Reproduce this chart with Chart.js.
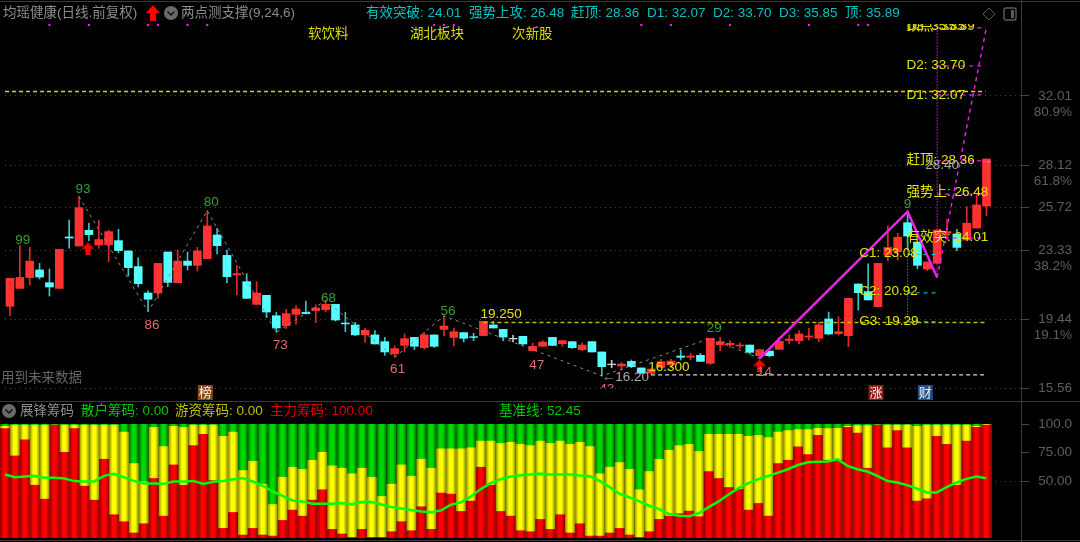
<!DOCTYPE html>
<html>
<head>
<meta charset="utf-8">
<title>均瑶健康</title>
<script src="https://cdn.jsdelivr.net/npm/chart.js@4/dist/chart.umd.min.js"></script>
<style>
  html, body { margin: 0; background: #000; }
  #page { position: relative; width: 1080px; height: 542px; overflow: hidden; background: #000;
          font: 13.5px "Liberation Sans", "Noto Sans CJK SC", sans-serif; }
  canvas { position: absolute; left: 0; }
  #priceChart { top: 0; }
  #chipChart { top: 402px; }
  .t { position: absolute; white-space: nowrap; line-height: 16px; }
  .rule { position: absolute; background: #3a3a3a; }
  .cy { color: #00c4c4; top: 5px; }
  .ye { color: #dcdc00; top: 26px; }
  .sub { top: 403px; }
  svg { position: absolute; }
</style>
</head>
<body>
<div id="page">
  <canvas id="priceChart" width="1080" height="402"></canvas>
  <canvas id="chipChart" width="1080" height="140"></canvas>

  <div class="rule" style="left:0;top:1px;width:1080px;height:1px"></div>
  <div class="rule" style="left:0;top:401px;width:1080px;height:1px"></div>
  <div class="rule" style="left:0;top:540px;width:1080px;height:1px"></div>
  <div class="rule" style="left:1021px;top:0;width:1px;height:542px"></div>

  <div class="t" style="left:3px;top:5px;color:#8c8c8c">均瑶健康(日线.前复权)</div>
  <svg style="left:146px;top:5px" width="14" height="16"><polygon points="7,0 14,8 10,8 10,16 4,16 4,8 0,8" fill="#ff0000"/></svg>
  <svg style="left:164px;top:6px" width="14" height="14"><circle cx="7" cy="7" r="7" fill="#6a6a6a"/><polyline points="3.5,5.5 7,9 10.5,5.5" fill="none" stroke="#111" stroke-width="1.5"/></svg>
  <div class="t" style="left:181px;top:5px;color:#8c8c8c">两点测支撑(9,24,6)</div>
  <div class="t cy" style="left:366px">有效突破: 24.01</div>
  <div class="t cy" style="left:469px">强势上攻: 26.48</div>
  <div class="t cy" style="left:571px">赶顶: 28.36</div>
  <div class="t cy" style="left:647px">D1: 32.07</div>
  <div class="t cy" style="left:713px">D2: 33.70</div>
  <div class="t cy" style="left:779px">D3: 35.85</div>
  <div class="t cy" style="left:845px">顶: 35.89</div>
  <div class="t ye" style="left:308px">软饮料</div>
  <div class="t ye" style="left:410px">湖北板块</div>
  <div class="t ye" style="left:512px">次新股</div>
  <svg style="left:982px;top:7px" width="14" height="14"><polygon points="7,1 13,7 7,13 1,7" fill="none" stroke="#5c5c5c"/></svg>
  <svg style="left:1003px;top:7px" width="14" height="14"><rect x="1" y="1" width="12" height="12" rx="2" fill="none" stroke="#5c5c5c" stroke-width="1.4"/><rect x="8" y="3" width="3" height="8" fill="#5c5c5c"/></svg>
  <div class="t" style="left:1px;top:370px;color:#666">用到未来数据</div>

  <svg style="left:2px;top:404px" width="14" height="14"><circle cx="7" cy="7" r="7" fill="#6a6a6a"/><polyline points="3.5,5.5 7,9 10.5,5.5" fill="none" stroke="#111" stroke-width="1.5"/></svg>
  <div class="t sub" style="left:20px;color:#8c8c8c">展锋筹码</div>
  <div class="t sub" style="left:81px;color:#00c800">散户筹码: 0.00</div>
  <div class="t sub" style="left:175px;color:#c0c000">游资筹码: 0.00</div>
  <div class="t sub" style="left:270px;color:#d80000">主力筹码: 100.00</div>
  <div class="t sub" style="left:499px;color:#00c800">基准线: 52.45</div>
</div>

<script>
// candles, one per trading day
const opens = [20.16,21.17,21.78,22.21,21.49,21.17,24.07,23.56,24.44,23.62,23.62,23.86,23.28,22.40,20.91,20.91,23.22,21.49,22.71,22.47,
  22.85,24.18,23.03,21.93,21.55,20.27,20.78,19.63,19.07,19.71,19.82,19.92,19.97,20.27,19.22,19.11,18.55,18.55,18.17,17.48,
  17.96,18.41,17.83,18.55,18.86,18.41,18.68,18.45,18.51,19.11,18.86,18.36,18.47,17.66,17.91,18.41,18.06,18.17,17.72,18.17,
  17.59,16.91,16.80,17.06,16.69,16.39,16.72,16.87,17.36,17.29,17.40,16.95,18.00,18.00,17.93,17.98,17.38,17.64,17.74,18.24,
  18.23,18.43,18.36,19.45,18.62,18.51,21.42,20.99,20.14,23.05,23.24,24.87,23.78,22.26,22.58,24.27,24.24,23.90,24.57,25.81];
const closes = [21.74,21.79,22.71,21.81,21.25,23.37,24.01,25.72,24.20,23.92,24.37,23.30,22.34,21.44,20.56,22.58,21.51,22.71,22.47,23.28,
  24.69,23.58,21.83,22.00,20.61,20.91,19.84,18.94,19.75,20.01,19.75,20.07,20.27,19.39,19.17,18.55,18.81,18.04,17.59,17.78,
  18.34,17.91,18.55,17.91,19.05,18.73,18.36,18.41,19.32,18.94,18.43,18.32,18.04,17.91,18.15,17.96,18.23,17.83,17.98,17.59,
  16.76,16.87,16.91,16.76,16.39,16.63,17.04,17.08,17.29,17.36,17.06,18.36,18.17,18.08,17.98,17.57,17.72,17.38,18.19,18.32,
  18.60,18.49,19.11,18.60,18.73,20.61,20.93,20.52,22.58,23.48,24.05,24.12,22.47,22.66,24.46,24.37,23.48,24.84,25.87,28.46];
const highs = [21.74,23.58,23.48,22.58,22.26,23.37,25.02,26.34,24.84,25.02,24.46,24.50,23.28,22.90,21.04,22.58,23.22,23.33,23.22,23.48,
  25.55,24.56,23.33,22.45,22.00,21.55,20.78,19.82,19.99,20.20,20.46,20.24,20.48,20.27,19.82,19.26,18.92,18.79,18.41,17.94,
  18.60,18.41,18.68,18.55,19.62,18.92,18.68,18.64,19.32,19.32,18.86,18.53,18.47,18.09,18.23,18.41,18.23,18.17,18.09,18.17,
  17.59,17.12,16.99,17.14,16.69,16.63,17.17,17.17,17.70,17.51,17.51,18.36,18.41,18.23,18.11,17.98,17.72,17.64,18.41,18.55,
  18.79,18.92,19.26,19.84,19.58,20.61,21.42,22.55,22.58,24.69,24.27,25.49,23.78,22.66,24.46,25.06,24.50,25.78,26.43,28.46];
const lows = [19.63,21.17,21.36,21.70,20.74,21.17,23.43,23.56,23.86,23.43,22.68,23.18,21.87,21.25,19.86,20.61,21.27,21.49,22.21,22.15,
  22.85,23.11,21.49,20.80,20.59,20.27,19.54,18.70,18.90,19.15,19.73,19.24,19.84,19.33,18.73,18.51,18.13,18.04,17.40,17.29,
  17.59,17.72,17.74,17.85,18.49,17.93,18.15,18.23,18.51,18.94,18.23,18.15,17.98,17.66,17.91,17.94,17.91,17.79,17.66,17.59,
  16.24,16.70,16.57,16.70,16.39,16.29,16.72,16.72,17.14,17.14,17.06,16.89,17.66,17.85,17.79,17.47,17.23,17.32,17.74,18.04,
  18.04,18.26,18.17,18.55,18.55,17.89,19.95,20.52,20.14,22.73,22.77,23.33,22.28,22.17,22.58,23.90,23.30,23.90,24.57,25.27];
const flatBars = [51, 61];

// chip panel: top of the red block, top of the yellow block, and the baseline
const mainForce = [96.2,72.3,86.3,46.6,34.4,99.4,75.5,96.2,45.8,33.5,69.4,20.7,14.6,4.7,12.8,52.5,19.5,64.4,46.6,81.3,
  91.3,50.7,8.7,22.7,2.9,8.7,2.9,2.0,15.7,24.8,19.5,33.5,42.6,7.9,3.8,0.9,7.9,0.9,0.9,5.8,
  14.6,6.7,27.7,7.9,39.7,38.8,23.6,32.7,62.4,46.6,23.6,19.5,6.7,5.8,16.6,7.9,20.7,4.7,12.8,2.0,
  2.0,4.7,8.7,2.9,0.9,5.8,16.6,19.5,21.6,23.9,19.0,58.6,52.5,44.6,42.9,24.8,30.6,19.5,65.6,68.5,
  80.2,73.5,90.4,68.5,68.5,97.4,92.4,61.5,99.4,79.3,94.5,79.3,32.7,34.7,89.5,82.5,46.6,85.4,97.4,99.4];
const hotMoney = [98.3,99.4,99.4,99.4,99.4,99.4,99.4,99.4,99.4,99.4,99.4,99.4,93.3,65.6,49.6,97.4,80.5,98.3,97.4,99.4,
  99.4,99.4,89.5,93.3,59.5,67.6,47.5,29.7,53.6,62.4,60.6,68.5,75.5,63.6,61.5,56.6,61.5,53.6,36.7,47.5,
  64.4,54.5,69.4,61.5,78.4,78.4,78.4,79.3,85.4,85.4,83.4,84.3,82.5,81.3,85.4,83.4,85.4,82.5,84.3,80.5,
  56.6,62.4,66.5,60.6,42.6,58.6,69.4,77.3,81.3,82.5,76.4,91.3,91.3,91.3,91.3,89.5,90.4,88.3,93.3,94.5,
  95.3,95.3,96.5,96.2,96.5,98.3,98.8,98.8,99.4,99.4,99.4,99.4,98.3,99.4,99.4,99.4,99.4,99.4,98.3,100];
const baseLine = [55.7,53.4,53.9,54.5,52.8,52.8,52.2,49.9,49.6,49.6,54.5,56.3,53.4,50.1,47.8,47.8,47.5,49.6,49.6,50.1,
  47.5,49.3,50.1,51.6,52.5,49.6,45.8,40.8,37.0,32.9,32.1,30.0,30.0,30.0,30.6,29.7,31.8,31.5,29.4,27.1,
  25.9,24.5,23.3,22.7,24.2,29.2,31.2,36.4,42.9,48.1,51.6,53.9,55.1,55.7,56.6,55.7,55.7,55.7,54.8,54.2,
  50.1,44.6,38.8,35.6,32.1,28.3,25.4,21.0,19.5,19.0,21.9,27.1,32.1,38.2,43.7,48.1,51.6,54.5,57.4,60.3,
  64.1,66.5,66.8,67.1,69.1,63.3,60.3,58.3,54.5,50.1,48.7,46.4,43.4,39.9,39.9,44.6,48.7,51.9,53.9,52.45];

// axes
const priceTicks = [32.01, 28.12, 25.72, 23.33, 19.44, 15.56];
const priceTickLabels = [['', '32.01', '80.9%'], ['', '28.12', '61.8%'], '25.72', ['', '23.33', '38.2%'], ['', '19.44', '19.1%'], '15.56'];
const chipTicks = [100, 75, 50];
const chipTickLabels = ['100.0', '75.00', '50.00'];

// overlay lines
const zigzagX = [7, 14, 20, 27, 32, 39, 44, 60, 71, 76];
const zigzagY = [26.34, 19.86, 25.55, 18.70, 20.48, 17.29, 19.62, 16.24, 18.36, 17.23];
const swingX = [76, 91, 94];
const swingY = [17.23, 25.49, 21.79];
const targetX = [94, 99];
const targetY = [21.79, 35.89];
const upperLevels = [35.85, 33.70, 32.07, 28.36, 26.48, 24.01];
const lowerLevels = [23.08, 20.92, 19.29];
const dotDays = [4, 8, 14, 15, 18, 20, 43, 44, 45, 64, 67, 73, 81, 86, 87];
const arrowDays = [7.9, 76];
const arrowPrices = [23.39, 16.80];

// text on the chart
const highText = ['99', '93', '80', '68', '56', '29', '9'];
const highX = [1.3, 7.4, 20.4, 32.3, 44.4, 71.4, 91];
const highY = [23.90, 26.77, 26.04, 20.63, 19.90, 18.94, 25.93];
const lowText = ['86', '73', '61', '47', '43', '14'];
const lowX = [14.4, 27.4, 39.3, 53.4, 60.5, 76.5];
const lowY = [19.11, 17.98, 16.63, 16.85, 15.50, 16.46];
const levelText = ['D3: 35.85', '顶点: 35.89', 'D2: 33.70', 'D1: 32.07', '赶顶: 28.36', '强势上: 26.48', '有效突: 24.01', 'C1: 23.08', 'C2: 20.92', 'G3: 19.29', '19.250', '16.300'];
const levelX = [90.9, 90.9, 90.9, 90.9, 90.9, 90.9, 90.9, 86.1, 86.1, 86.1, 47.7, 64.7];
const levelY = [35.95, 35.95, 33.76, 32.07, 28.40, 26.60, 24.07, 23.16, 21.02, 19.33, 19.73, 16.74];
const priceText = ['28.40', '→', '←16.20'];
const priceX = [92.8, 98.3, 60];
const priceY = [28.12, 28.40, 16.18];
const badgeText = ['榜', '涨', '财'];
const badgeX = [19.8, 87.8, 92.8];
const badgeColor = ['#8a4a12', '#8a1c1c', '#1f4f86'];

const RED = '#ff3232', CYAN = '#55ffff', GREY = '#c8c8c8';
const FONT = '"Liberation Sans", "Noto Sans CJK SC", sans-serif';
const days = opens.map((o, i) => i);

function bodyColor(i) {
  if (flatBars.includes(i)) return GREY;
  return closes[i] >= opens[i] ? RED : CYAN;
}
function wickColor(i) {
  if (flatBars.includes(i)) return GREY;
  return closes[i] >= opens[i] ? '#e42828' : '#38c4c4';
}

function pairs(xs, ys) {
  return xs.map((x, i) => ({x: x, y: ys[i]}));
}

function seg(xs, ys, color, width, dash, order) {
  return {
    type: 'line',
    data: pairs(xs, ys),
    borderColor: color,
    borderWidth: width,
    borderDash: dash,
    pointRadius: 0,
    tension: 0,
    order: order,
  };
}

function arrowIcon() {
  const c = document.createElement('canvas');
  c.width = 13;
  c.height = 13;
  const g = c.getContext('2d');
  g.fillStyle = '#ff0000';
  g.beginPath();
  [[6.5, 0], [13, 6.5], [9, 6.5], [9, 13], [4, 13], [4, 6.5], [0, 6.5]].forEach(p => g.lineTo(p[0], p[1]));
  g.fill();
  return c;
}

const chartNotes = {
  id: 'chartNotes',
  afterDatasetsDraw(chart) {
    const {ctx, chartArea, scales: {x, y}} = chart;
    ctx.save();
    ctx.beginPath();
    ctx.rect(chartArea.left, chartArea.top + 1, chartArea.right - chartArea.left, chartArea.bottom - chartArea.top - 1);
    ctx.clip();
    ctx.textBaseline = 'middle';
    const write = (texts, xs, ys, color, align) => {
      ctx.fillStyle = color;
      ctx.textAlign = align;
      texts.forEach((t, i) => ctx.fillText(t, x.getPixelForValue(xs[i]), y.getPixelForValue(ys[i])));
    };
    ctx.font = '13.5px ' + FONT;
    write(highText, highX, highY, '#35a035', 'center');
    write(lowText, lowX, lowY, '#e26c6c', 'center');
    write(levelText, levelX, levelY, '#e4e400', 'left');
    write(priceText, priceX, priceY, '#a8a8a8', 'left');
    ctx.restore();

    // flags in the strip under the candles
    ctx.save();
    ctx.font = '13px ' + FONT;
    ctx.textAlign = 'center';
    ctx.textBaseline = 'middle';
    badgeText.forEach((t, i) => {
      const px = x.getPixelForValue(badgeX[i]);
      ctx.fillStyle = badgeColor[i];
      ctx.fillRect(px - 7.5, 385, 15, 15);
      ctx.fillStyle = '#f4f4f4';
      ctx.fillText(t, px, 393);
    });
    ctx.restore();
  }
};

function rightAxis(ticks, labels, padding) {
  return {
    position: 'right',
    afterBuildTicks(scale) {
      scale.ticks = ticks.map(v => ({value: v}));
    },
    afterFit(scale) {
      scale.width = 50;
      scale.paddingTop = 0;
      scale.paddingBottom = 0;
    },
    border: {display: false, dash: [1, 4]},
    ticks: {
      autoSkip: false,
      color: '#5e5e5e',
      font: {size: 13.5, family: FONT},
      padding: padding,
      crossAlign: 'far',
      callback: (value, index) => labels[index],
    },
  };
}

const xAxis = {type: 'linear', display: false, offset: false, min: -0.505, max: 102.6};

const priceY2 = rightAxis(priceTicks, priceTickLabels, 5);
priceY2.min = 15.56;
priceY2.max = 36.12;
priceY2.grid = {color: '#474747', tickColor: '#474747', tickLength: 7, tickBorderDash: []};

new Chart(document.getElementById('priceChart'), {
  type: 'bar',
  plugins: [chartNotes],
  data: {
    datasets: [
      {
        data: days.map(i => ({x: i, y: [lows[i], highs[i]]})),
        backgroundColor: days.map(wickColor),
        barThickness: 1,
        grouped: false,
        order: 20,
      },
      {
        data: days.map(i => ({x: i, y: [opens[i], closes[i]]})),
        backgroundColor: days.map(bodyColor),
        barThickness: 8,
        grouped: false,
        order: 19,
      },
      seg(zigzagX, zigzagY, '#8a8a8a', 1, [3, 4], 10),
      seg([-0.5, 98.9], [32.26, 32.26], '#d8d800', 1.6, [4, 3], 9),
      seg([48, 99], [19.25, 19.25], '#b8b800', 1.6, [4, 3], 9),
      seg([65, 99], [16.30, 16.30], '#d8d8d8', 1.4, [4, 3], 9),
      seg([91, 91], [25.49, 19.29], '#00d8d8', 1, [1, 2], 8),
      seg([94, 94], [21.79, 36.12], '#ee22ee', 1.4, [1, 2], 8),
      seg(targetX, targetY, '#ee22ee', 1.4, [4, 4], 7),
      ...upperLevels.map(v => seg([94, 98.9], [v, v], '#ee22ee', 1.2, [4, 4], 7)),
      ...lowerLevels.map(v => seg([91, 94], [v, v], '#00d8d8', 1, [4, 4], 7)),
      seg(swingX, swingY, '#ee22ee', 2.5, [], 6),
      {
        type: 'line',
        data: dotDays.map(d => ({x: d, y: 36.01})),
        showLine: false,
        pointStyle: 'rect',
        pointRadius: 1.5,
        pointBorderWidth: 0,
        pointBackgroundColor: '#ee22ee',
        order: 5,
      },
      {
        type: 'line',
        data: pairs(arrowDays, arrowPrices),
        showLine: false,
        pointStyle: arrowIcon(),
        order: 4,
      },
    ],
  },
  options: {
    responsive: false,
    animation: false,
    devicePixelRatio: 1,
    layout: {padding: {top: 23, bottom: 14, left: 0, right: 8}},
    plugins: {legend: {display: false}, tooltip: {enabled: false}},
    scales: {x: xAxis, y: priceY2},
  },
});

const chipY = rightAxis(chipTicks, chipTickLabels, 9);
chipY.min = 0;
chipY.max = 100;
chipY.grid = {
  color: c => (c.tick && c.tick.value === 50 ? '#474747' : 'transparent'),
  tickColor: '#474747',
  tickLength: 7,
  tickBorderDash: [],
};

// each bar is bright in the middle and dark at its two edges
function shade(bright, edge) {
  return c => {
    const scale = c.chart.scales.x;
    const px = scale && c.dataIndex !== undefined ? scale.getPixelForValue(c.dataIndex) : NaN;
    if (!Number.isFinite(px)) return bright;
    const g = c.chart.ctx.createLinearGradient(px - 5, 0, px + 5, 0);
    g.addColorStop(0, edge);
    g.addColorStop(0.35, bright);
    g.addColorStop(0.65, bright);
    g.addColorStop(1, edge);
    return g;
  };
}

function chipBars(values, color, edge, order) {
  return {
    data: pairs(days, values),
    backgroundColor: shade(color, edge),
    borderWidth: 0,
    barThickness: 10,
    inflateAmount: 0,
    grouped: false,
    order: order,
  };
}

new Chart(document.getElementById('chipChart'), {
  type: 'bar',
  data: {
    datasets: [
      chipBars(days.map(() => 100), '#00d800', '#006800', 4),
      chipBars(hotMoney, '#ffff00', '#8a8a00', 3),
      chipBars(mainForce, '#ff0000', '#8a0000', 2),
      {
        type: 'line',
        data: pairs(days, baseLine),
        borderColor: '#00ff00',
        borderWidth: 2.5,
        pointRadius: 0,
        tension: 0,
        order: 1,
      },
    ],
  },
  options: {
    responsive: false,
    animation: false,
    devicePixelRatio: 1,
    layout: {padding: {top: 22, bottom: 4, left: 0, right: 8}},
    plugins: {legend: {display: false}, tooltip: {enabled: false}},
    scales: {x: xAxis, y: chipY},
  },
});
</script>
</body>
</html>
